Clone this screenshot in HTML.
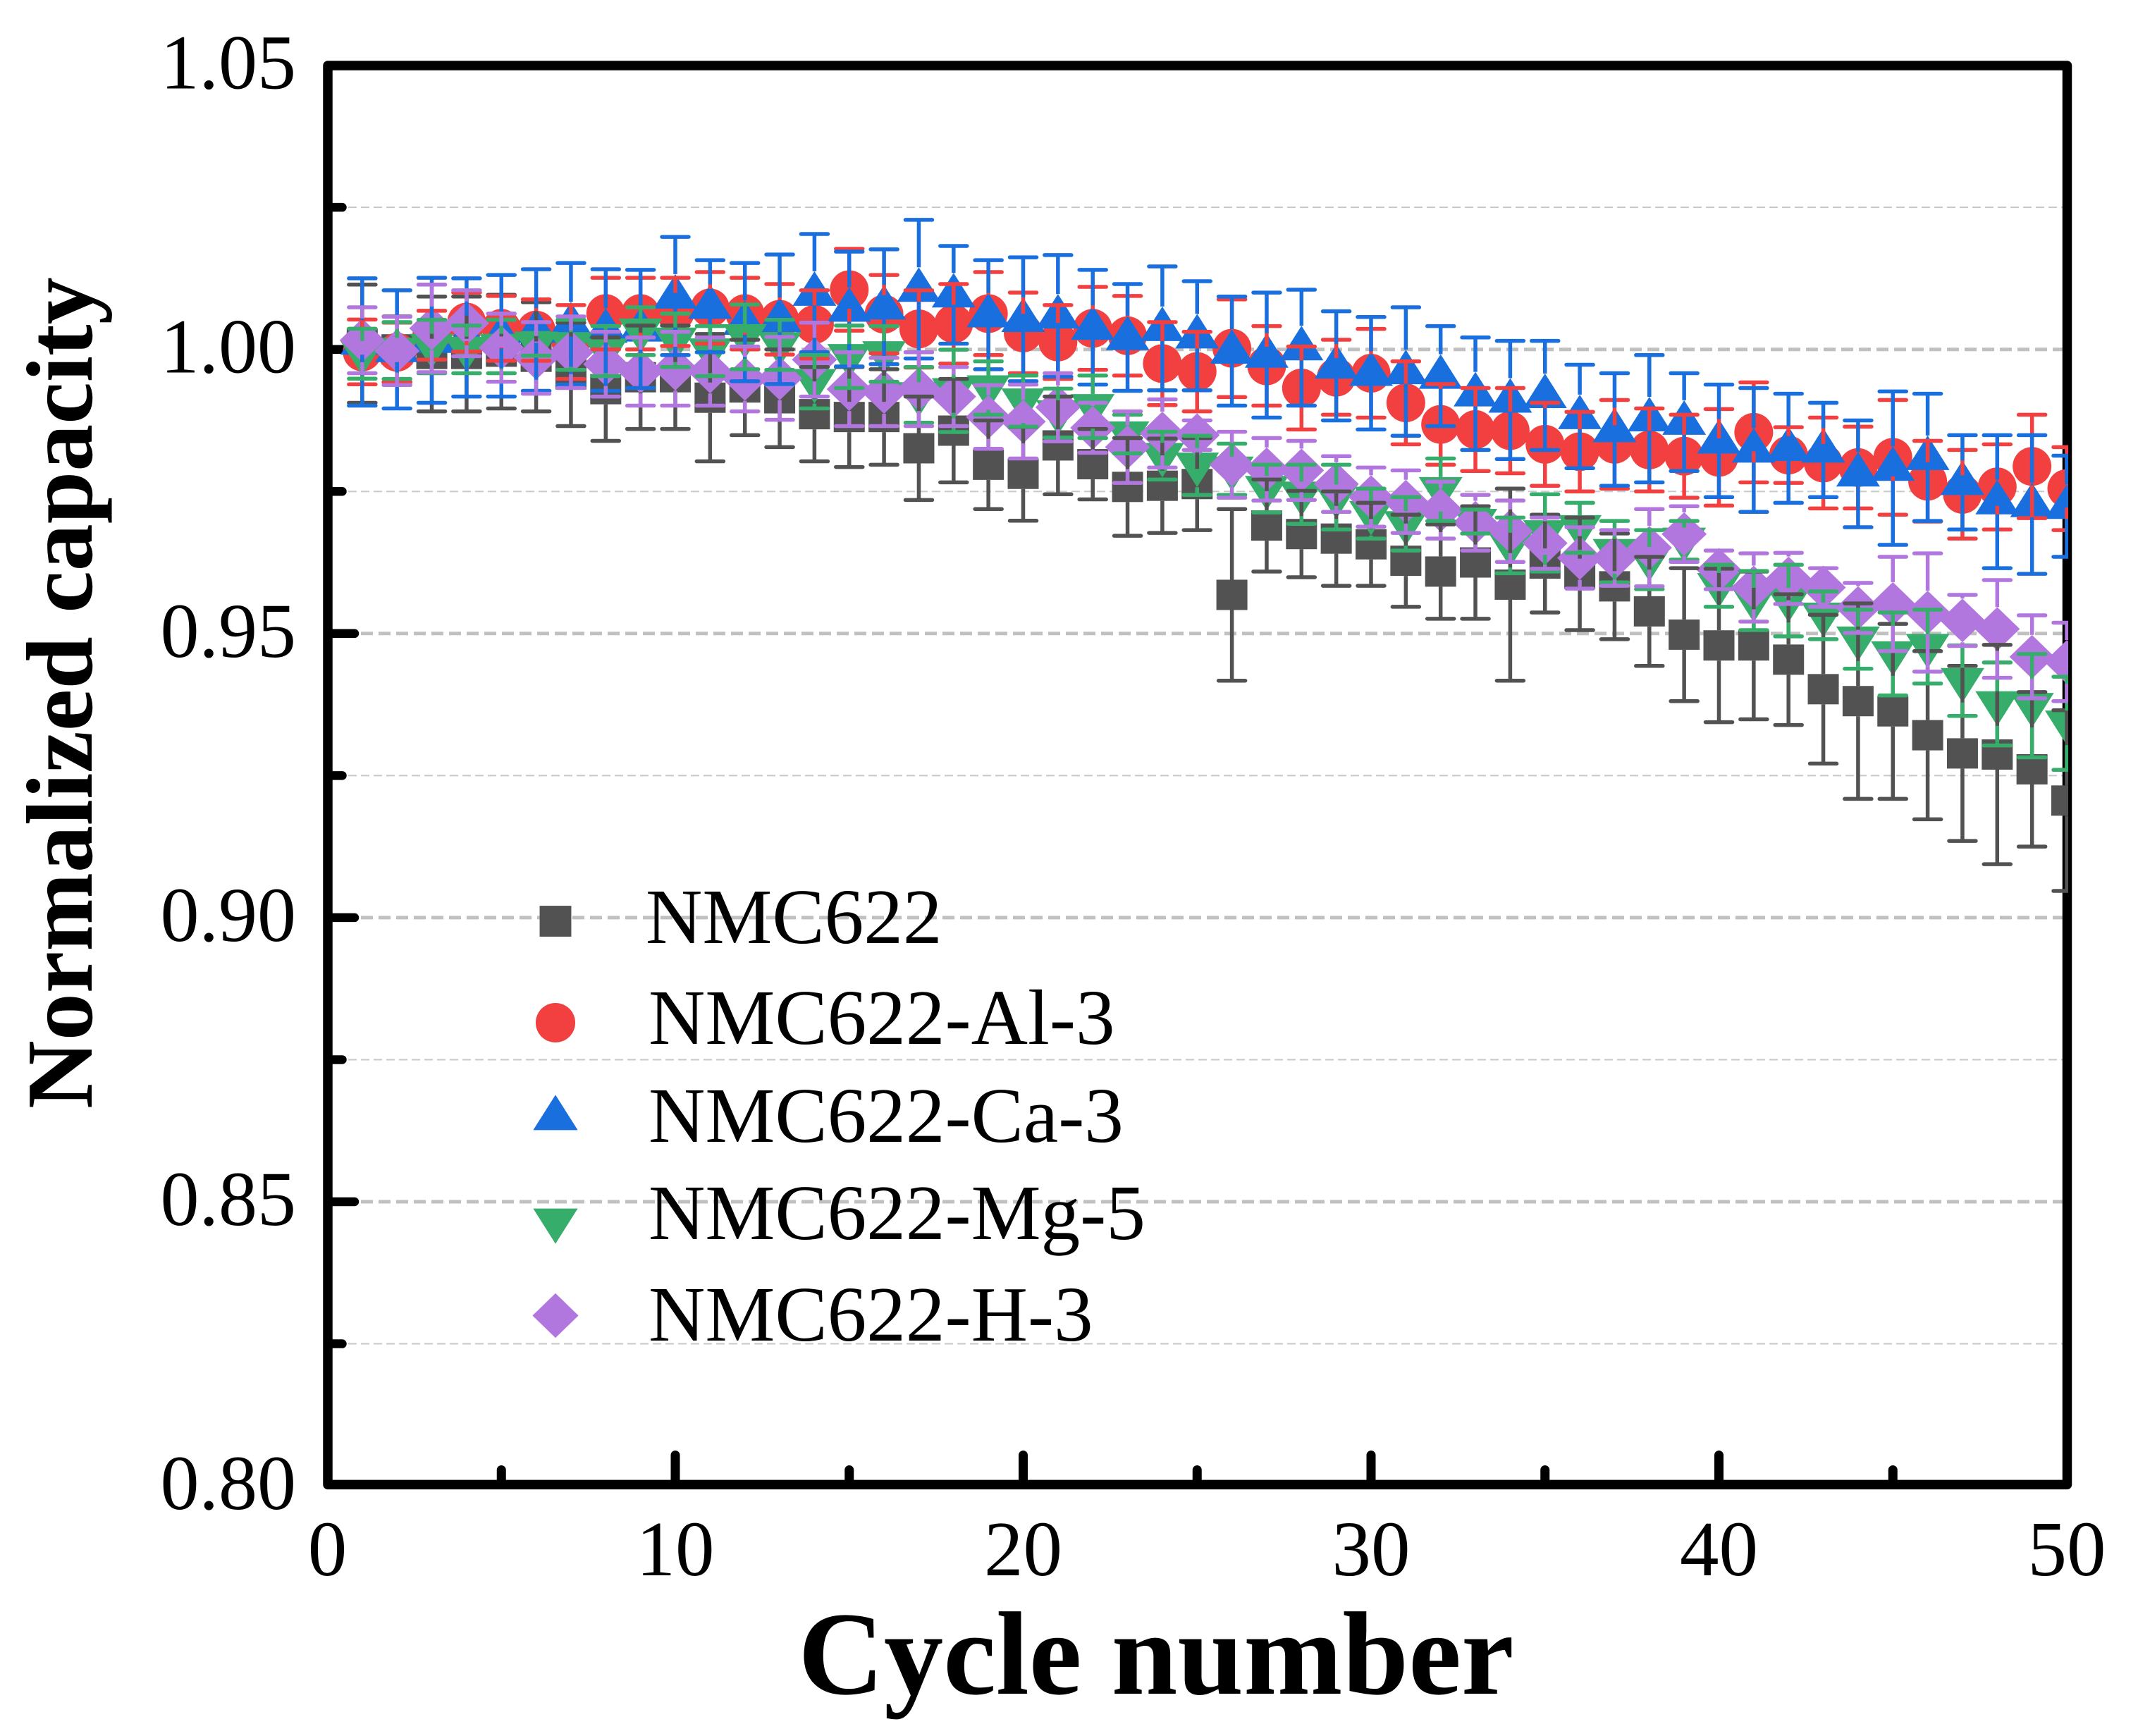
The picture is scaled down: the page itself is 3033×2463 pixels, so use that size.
<!DOCTYPE html>
<html>
<head>
<meta charset="utf-8">
<title>Normalized capacity vs cycle number</title>
<style>
html,body{margin:0;padding:0;background:#fff;}
body{width:3033px;height:2463px;overflow:hidden;}
svg{display:block;}
text{font-family:"Liberation Serif",serif;fill:#000;}
</style>
</head>
<body>
<svg id="chart" xmlns="http://www.w3.org/2000/svg" width="3033" height="2463" viewBox="0 0 3033 2463">
  <defs><clipPath id="plot-clip"><rect x="465" y="93" width="2469" height="2014"></rect></clipPath></defs>
  <rect x="0" y="0" width="3033" height="2463" fill="#fff"></rect>
  <g id="grid"></g>
  <g id="axes"></g>
  <g id="marks" clip-path="url(#plot-clip)"></g>
  <g id="bars" clip-path="url(#plot-clip)"></g>
  <text x="1640" y="2403" font-size="168.5" font-weight="bold" text-anchor="middle">Cycle number</text>
  <text transform="translate(130,1573) rotate(-90)" font-size="134" font-weight="bold">Normalized capacity</text>
  <g id="legend">
    <text x="916" y="1338" font-size="111.3">NMC622</text>
    <text x="920" y="1481" font-size="111.3">NMC622-Al-3</text>
    <text x="920" y="1620" font-size="111.3">NMC622-Ca-3</text>
    <text x="920" y="1758" font-size="111.3">NMC622-Mg-5</text>
    <text x="920" y="1902" font-size="111.3">NMC622-H-3</text>
  </g>
</svg>
<script>
const cycles = [1,2,3,4,5,6,7,8,9,10,11,12,13,14,15,16,17,18,19,20,21,22,23,24,25,26,27,28,29,30,31,32,33,34,35,36,37,38,39,40,41,42,43,44,45,46,47,48,49,50];
const grayValues = [1.0010,1.0000,.9992,.9992,.9996,.9987,.9956,.9930,.9951,.9951,.9915,.9933,.9914,.9886,.9881,.9881,.9826,.9857,.9797,.9781,.9831,.9798,.9758,.9760,.9763,.9568,.9690,.9675,.9667,.9657,.9628,.9609,.9625,.9586,.9623,.9605,.9583,.9539,.9498,.9479,.9479,.9454,.9402,.9381,.9363,.9321,.9289,.9287,.9261,.9206];
const grayErrors = [.0104,.0058,.0101,.0101,.0100,.0096,.0091,.0091,.0091,.0091,.0112,.0084,.0086,.0083,.0088,.0084,.0091,.0091,.0078,.00825,.0086,.0062,.0086,.0083,.0081,.0151,.0081,.0076,.0083,.0073,.0081,.0083,.0099,.0169,.0086,.0099,.0093,.0096,.0117,.0135,.0130,.0115,.0131,.0172,.0154,.0148,.0154,.0193,.0136,.0159];
const redValues = [.99955,.9995,1.0025,1.0048,1.0037,1.0034,1.0013,1.0063,1.0063,1.0066,1.0073,1.0063,1.0053,1.0044,1.0105,1.0062,1.0036,1.0045,1.0063,1.0029,1.0013,1.0037,1.0024,.9975,.9961,1.0002,.9971,.9932,.9951,.9958,.9906,.9868,.9859,.9857,.9833,.9820,.9833,.9823,.9812,.9810,.9854,.9814,.9800,.9792,.9810,.9768,.9745,.9758,.9794,.9755];
const redErrors = [.0057,.0052,.0043,.0052,.0057,.0054,.0065,.0063,.0063,.0060,.0063,.0063,.0062,.0060,.0072,.0069,.0068,.0070,.0073,.0071,.0065,.0073,.0070,.0073,.0070,.0086,.0070,.0073,.0066,.0078,.0073,.0071,.0073,.0075,.0073,.0070,.0078,.0073,.0073,.0085,.0088,.0049,.0080,.0072,.0101,.0071,.0078,.0075,.0091,.0073];
const blueValues = [1.0013,1.0000,1.0016,1.0021,1.0024,1.0034,1.0045,1.0034,1.0036,1.0094,1.0076,1.0048,1.0053,1.0099,1.0071,1.0075,1.0106,1.0096,1.0061,1.0053,1.0059,1.0039,1.0021,1.0037,1.0024,.9997,.9990,1.0003,.9971,.9958,.9961,.9953,.9922,.9911,.9919,.9882,.9859,.9878,.9872,.9839,.9823,.9826,.9823,.9781,.9791,.9810,.9766,.9732,.9727,.9724];
const blueErrors = [.0112,.0104,.0110,.0104,.0107,.0107,.0107,.0107,.0104,.0104,.0081,.0104,.0114,.0104,.0101,.0101,.0122,.0086,.0096,.0109,.0107,.0101,.0094,.0109,.0096,.0096,.0110,.0102,.0096,.0099,.0113,.0088,.0099,.0104,.0096,.0091,.0099,.0112,.0086,.0099,.0109,.0096,.0083,.0094,.0135,.0112,.0083,.0117,.0122,.0089];
const greenValues = [.99924,.9998,1.0005,1.0000,1.0005,1.0009,1.0008,.9997,1.0032,1.0016,.9997,1.0022,1.0008,.9943,.9987,.9992,.9920,.9927,.9932,.9909,.9888,.9899,.9851,.9813,.9796,.9789,.9755,.9745,.9740,.9711,.9693,.9753,.9697,.9655,.9677,.9686,.9644,.9630,.9664,.9584,.9558,.9558,.9532,.9490,.9464,.9477,.9417,.9376,.9373,.9342];
const greenErrors = [.0044,.0050,.0047,.0042,.0047,.0020,.0044,.0044,.0042,.0047,.0044,.0057,.0044,.0047,.0055,.0049,.0049,.00725,.0047,.0045,.0043,.0055,.0034,.0042,.0052,.0045,.0042,.0052,.0057,.0044,.0047,.0055,.0021,.0049,.0068,.0044,.0054,.0052,.0034,.0037,.0052,.0063,.0042,.0052,.0073,.0065,.0062,.0073,.0091,.0082];
const purpleValues = [1.0016,.99973,1.0037,1.0046,1.0003,.9985,.9995,.9974,.9961,.9966,.9961,.9948,.9949,.9982,.9930,.9925,.9930,.9917,.9881,.9873,.9898,.9862,.9828,.9852,.9849,.9797,.9789,.9787,.9763,.9740,.9732,.9717,.9695,.9680,.9659,.9633,.9633,.9651,.9675,.9612,.9581,.9597,.9581,.9545,.9552,.9537,.9523,.9508,.9459,.9450];
const purpleErrors = [.0058,.0060,.0077,.0058,.0060,.0063,.0063,.0057,.0060,.0065,.0060,.0057,.0073,.0065,.0065,.0060,.0065,.0052,.0056,.0065,.0060,.0044,.0063,.0060,.0026,.0058,.0055,.0052,.0049,.0052,.0055,.0050,.0049,.0054,.0045,.0054,.0049,.0068,.0049,.0034,.0060,.0045,.0034,.0044,.0083,.0104,.0045,.0086,.0073,.0069];
const xMajorTicks = [0,10,20,30,40,50];
const xMinorTicks = [5,15,25,35,45];
const yMajorTicks = [0.80,0.85,0.90,0.95,1.00,1.05];
const yMinorTicks = [0.825,0.875,0.925,0.975,1.025];

const NS = 'http://www.w3.org/2000/svg';
function xScale(c){ return 464.5 + c * 49.35; }
function yScale(v){ return 495.7 + (1 - v) * 8062; }
function make(tag, parent, attrs){
  const el = document.createElementNS(NS, tag);
  for (const k in attrs) el.setAttribute(k, attrs[k]);
  parent.appendChild(el);
  return el;
}
const SHAPES = {
  square:  { top: 21.5, bottom: 21.5 },
  circle:  { top: 27, bottom: 27 },
  up:      { top: 31, bottom: 18 },
  down:    { top: 18, bottom: 31 },
  diamond: { top: 31, bottom: 31 }
};
function drawMarker(parent, shape, cx, cy, color, k){
  if (shape === 'square') return make('rect', parent, {x: cx-22*k, y: cy-21.5*k, width: 44*k, height: 43*k, fill: color});
  if (shape === 'circle') return make('circle', parent, {cx: cx, cy: cy, r: 27.5*k, fill: color});
  let pts;
  if (shape === 'up') pts = [[cx, cy-31*k],[cx+31*k, cy+18*k],[cx-31*k, cy+18*k]];
  if (shape === 'down') pts = [[cx, cy+31*k],[cx+31*k, cy-18*k],[cx-31*k, cy-18*k]];
  if (shape === 'diamond') pts = [[cx, cy-31*k],[cx+32*k, cy],[cx, cy+31*k],[cx-32*k, cy]];
  return make('polygon', parent, {points: pts.map(p => p.join(',')).join(' '), fill: color});
}

const series = [
  {name:'nmc622', color:'#525252', shape:'square', values:grayValues, errors:grayErrors, legendY:1307},
  {name:'nmc622-al-3', color:'#f24040', shape:'circle', values:redValues, errors:redErrors, legendY:1451},
  {name:'nmc622-ca-3', color:'#1a6fdf', shape:'up', values:blueValues, errors:blueErrors, legendY:1585},
  {name:'nmc622-mg-5', color:'#37ad6b', shape:'down', values:greenValues, errors:greenErrors, legendY:1733},
  {name:'nmc622-h-3', color:'#b177de', shape:'diamond', values:purpleValues, errors:purpleErrors, legendY:1866.5}
];

const gridG = document.getElementById('grid');
const axesG = document.getElementById('axes');
const marksG = document.getElementById('marks');
const barsG = document.getElementById('bars');
const legendG = document.getElementById('legend');
const plotRight = 2926;

// gridlines
yMajorTicks.forEach(v => {
  if (v === 0.80 || v === 1.05) return;
  const l = make('line', gridG, {x1: 512, x2: plotRight, y1: yScale(v), y2: yScale(v), stroke: '#c0c0c0', 'stroke-width': 5, 'stroke-dasharray': '17 8'});
  
  
});
yMinorTicks.forEach(v => {
  const l = make('line', gridG, {x1: 494, x2: plotRight, y1: yScale(v), y2: yScale(v), stroke: '#c8c8c8', 'stroke-width': 2, 'stroke-dasharray': '12 6'});
  
  
});

// axis frame
const frame = make('rect', axesG, {x: 465, y: 93, width: 2467.5, height: 2013.4, fill: 'none', stroke: '#000', 'stroke-width': 13.5, 'stroke-linejoin': 'round'});



// ticks
function yTick(v, end){
  const t = make('line', axesG, {x1: 465, x2: end, y1: yScale(v), y2: yScale(v), stroke: '#000', 'stroke-width': 12.5, 'stroke-linecap': 'round'});
  
  
}
function xTick(c, top){
  const t = make('line', axesG, {x1: xScale(c), x2: xScale(c), y1: 2106, y2: top, stroke: '#000', 'stroke-width': 13, 'stroke-linecap': 'round'});
  
  
}
yMajorTicks.forEach(v => { if (v > 0.8 && v < 1.05) yTick(v, 503); });
yMinorTicks.forEach(v => yTick(v, 485.5));
xMajorTicks.forEach(c => { if (c > 0 && c < 50) xTick(c, 2064.5); });
xMinorTicks.forEach(c => xTick(c, 2085.5));

// tick labels
yMajorTicks.forEach(v => {
  const t = make('text', axesG, {x: 420, y: yScale(v) + 33, 'font-size': 110, 'text-anchor': 'end'});
  t.textContent = v.toFixed(2);
  
  
});
xMajorTicks.forEach(c => {
  const t = make('text', axesG, {x: xScale(c), y: 2235, 'font-size': 111, 'text-anchor': 'middle'});
  t.textContent = String(c);
  
  
});

// markers
series.forEach(s => {
  const g = make('g', marksG, {});
  
  
  cycles.forEach((c, i) => {
    const m = drawMarker(g, s.shape, xScale(c), yScale(s.values[i]), s.color, 1);
    
    
  });
});

// error bars: stems start at the marker edge, caps at value +/- error
series.forEach(s => {
  const g = make('g', barsG, {stroke: s.color, 'stroke-linecap': 'round'});
  
  
  const ext = SHAPES[s.shape];
  cycles.forEach((c, i) => {
    const x = xScale(c), y = yScale(s.values[i]);
    const yTop = yScale(s.values[i] + s.errors[i]);
    const yBot = yScale(s.values[i] - s.errors[i]);
    if (yTop < y - ext.top) {
      const st = make('line', g, {x1: x, x2: x, y1: y - ext.top, y2: yTop, 'stroke-width': 5.5, 'stroke-linecap': 'butt'});
      
      
    }
    if (yBot > y + ext.bottom) {
      const sb = make('line', g, {x1: x, x2: x, y1: y + ext.bottom, y2: yBot, 'stroke-width': 5.5, 'stroke-linecap': 'butt'});
      
      
    }
    [yTop, yBot].forEach(yy => {
      const cap = make('line', g, {x1: x - 19, x2: x + 19, y1: yy, y2: yy, 'stroke-width': 5.5});
      
      
    });
  });
});

// legend markers
series.forEach(s => {
  const m = drawMarker(legendG, s.shape, 788, s.legendY, s.color, 1.02);
  
  
});
</script>
</body>
</html>
